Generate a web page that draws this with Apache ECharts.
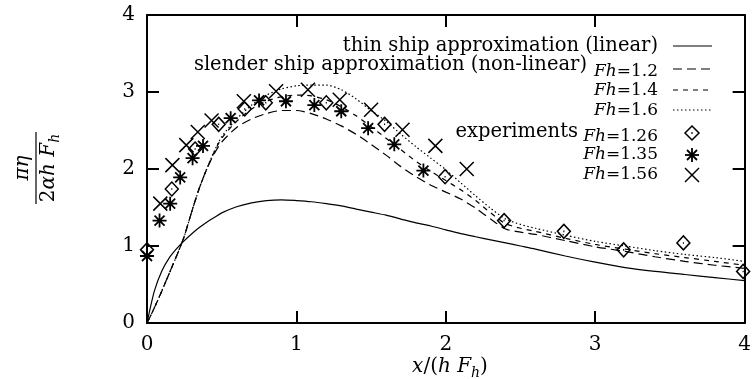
<!DOCTYPE html>
<html><head><meta charset="utf-8">
<script src="https://cdn.jsdelivr.net/npm/echarts@6.0.0/dist/echarts.min.js"></script>
<style>html,body{margin:0;padding:0;background:#fff}#c{width:754px;height:379px}</style>
</head><body><div id="c"></div>
<script>
// ---- data ----
const xGrid = [0,0.05,0.1,0.15,0.2,0.25,0.3,0.35,0.4,0.45,0.5,0.6,0.7,0.8,0.9,1.0,1.1,1.2,1.3,1.4,1.5,1.6,1.7,1.8,1.9,2.0,2.1,2.2,2.3,2.4,2.5,2.6,2.8,3.0,3.2,3.4,3.6,3.8,4.0];
const thinShip = [0,0.42,0.68,0.85,0.97,1.07,1.16,1.24,1.31,1.37,1.43,1.51,1.56,1.59,1.60,1.59,1.575,1.55,1.52,1.48,1.44,1.40,1.35,1.30,1.26,1.21,1.16,1.12,1.08,1.04,1.00,0.96,0.87,0.79,0.72,0.67,0.63,0.59,0.55];
const slenderFh12 = [0,0.2,0.42,0.65,0.88,1.13,1.45,1.75,2.0,2.2,2.35,2.54,2.65,2.72,2.76,2.76,2.72,2.65,2.56,2.45,2.32,2.18,2.03,1.90,1.79,1.70,1.61,1.49,1.35,1.22,1.18,1.15,1.07,0.99,0.93,0.86,0.80,0.75,0.71];
const slenderFh14 = [0,0.2,0.42,0.65,0.88,1.13,1.45,1.75,2.0,2.22,2.40,2.62,2.78,2.88,2.94,2.96,2.95,2.90,2.81,2.69,2.55,2.40,2.25,2.10,1.97,1.85,1.73,1.59,1.43,1.29,1.23,1.19,1.10,1.02,0.96,0.90,0.85,0.80,0.75];
const slenderFh16 = [0,0.2,0.42,0.65,0.88,1.13,1.45,1.75,2.0,2.23,2.42,2.65,2.83,2.96,3.04,3.08,3.09,3.09,3.03,2.91,2.76,2.62,2.45,2.29,2.14,1.99,1.82,1.65,1.49,1.35,1.28,1.23,1.14,1.06,1.00,0.94,0.89,0.85,0.80];
const expFh126 = [[0,0.95],[0.166,1.74],[0.322,2.26],[0.48,2.58],[0.654,2.78],[0.795,2.86],[1.2,2.86],[1.59,2.58],[1.995,1.90],[2.39,1.33],[2.79,1.19],[3.19,0.95],[3.59,1.04],[3.99,0.67]];
const expFh135 = [[0,0.87],[0.084,1.33],[0.155,1.55],[0.222,1.89],[0.305,2.14],[0.375,2.30],[0.56,2.66],[0.75,2.89],[0.93,2.88],[1.12,2.83],[1.30,2.75],[1.48,2.53],[1.655,2.32],[1.85,1.98]];
const expFh156 = [[0.089,1.55],[0.17,2.05],[0.263,2.31],[0.34,2.48],[0.432,2.63],[0.648,2.88],[0.864,3.01],[1.077,3.03],[1.29,2.90],[1.50,2.77],[1.71,2.51],[1.93,2.30],[2.14,2.0]];
const xTicks = [0,1,2,3,4];
const yTicks = [0,1,2,3,4];

// ---- helpers ----
const SERIF = '"DejaVu Serif", serif';
const cv = document.createElement('canvas').getContext('2d');
function measure(font, s){ cv.font = font; return cv.measureText(s).width; }
function mathText(parts, size, ax, y, align){
  let x = 0; const items = [];
  parts.forEach(p => {
    const fs = p.sub ? Math.round(size*0.72) : size;
    const style = p.it ? 'italic' : 'normal';
    const w = measure(style + ' ' + fs + 'px ' + SERIF, p.t);
    items.push({t:p.t, fs, style, x, dy: p.sub ? size*0.32 : 0});
    x += w;
  });
  const start = align === 'right' ? ax - x : align === 'center' ? ax - x/2 : ax;
  return items.map(it => ({type:'text', x:start + it.x, y:y + it.dy, z:10,
    style:{text:it.t, fontSize:it.fs, fontStyle:it.style, fontFamily:SERIF, fill:'#000', align:'left', verticalAlign:'middle'}}));
}
function plain(t, size, ax, y, align){
  return {type:'text', x:ax, y:y, z:10, style:{text:t, fontSize:size, fontFamily:SERIF, fill:'#000', align:align, verticalAlign:'middle'}};
}
function seg(x1,y1,x2,y2,w,dash){
  return {type:'line', z:10, shape:{x1,y1,x2,y2}, style:{stroke:'#000', lineWidth:w, lineDash:dash||null}};
}

const chart = echarts.init(document.getElementById('c'), null, {renderer:'canvas'});

// legend graphics
const LX = 658, S1 = 673, S2 = 712, MX = 692;
const FH = 17, TXT = 19.5;
const fh = v => [{t:'F',it:true},{t:'h',it:true},{t:'='+v}];
let g = [];
g.push(plain('thin ship approximation (linear)', TXT, LX, 46, 'right'));
g.push(seg(S1,46,S2,46,1.2));
g.push(plain('slender ship approximation (non-linear)', TXT, 587, 65, 'right'));
g = g.concat(mathText(fh('1.2'), FH, LX, 72, 'right'));
g.push(seg(S1,69,S2,69,1.2,[9,5]));
g = g.concat(mathText(fh('1.4'), FH, LX, 91, 'right'));
g.push(seg(S1,90,S2,90,1.2,[5,5]));
g = g.concat(mathText(fh('1.6'), FH, LX, 111, 'right'));
g.push(seg(S1,110,S2,110,1.2,[1.5,2.5]));
g.push(plain('experiments', TXT, 578, 132, 'right'));
g = g.concat(mathText(fh('1.26'), FH, LX, 137, 'right'));
g.push({type:'polygon', z:10, shape:{points:[[MX,126],[MX+7,133],[MX,140],[MX-7,133]]}, style:{fill:'none', stroke:'#000', lineWidth:1.5}});
g.push(seg(MX-0.8,133,MX+0.8,133,1.5));
g = g.concat(mathText(fh('1.35'), FH, LX, 155, 'right'));
g.push(seg(MX,148,MX,162,1.8)); g.push(seg(MX-7,155,MX+7,155,1.8));
g.push(seg(MX-5,150,MX+5,160,1.8)); g.push(seg(MX-5,160,MX+5,150,1.8));
g = g.concat(mathText(fh('1.56'), FH, LX, 175, 'right'));
g.push(seg(MX-7,168,MX+7,182,1.5)); g.push(seg(MX-7,182,MX+7,168,1.5));

// x axis title
g = g.concat(mathText([{t:'x',it:true},{t:'/('},{t:'h',it:true},{t:' '},{t:'F',it:true},{t:'h',it:true,sub:true},{t:')'}], 20, 450, 367, 'center'));

// y axis title (rotated fraction)
const num = mathText([{t:'πη',it:true}], 20, 0, -13, 'center');
const den = mathText([{t:'2'},{t:'αh',it:true},{t:' '},{t:'F',it:true},{t:'h',it:true,sub:true}], 20, 0, 13, 'center');
g.push({type:'group', x:36, y:168, rotation:Math.PI/2, children: num.concat(den).concat([seg(-36,0,36,0,1.2)])});

const axisCommon = {
  type:'value', min:0, max:4, interval:1,
  axisLine:{show:true, onZero:false, lineStyle:{color:'#000', width:2}},
  axisTick:{show:true, inside:true, length:12, lineStyle:{color:'#000', width:2}},
  splitLine:{show:false}
};
const labelStyle = {color:'#000', fontFamily:SERIF, fontSize:20};

const lineSeries = (data, dash) => ({
  type:'line', data: xGrid.map((x,i)=>[x, data[i]]), showSymbol:false, smooth:0.25,
  lineStyle:{color:'#000', width:1.2, type:dash}, z:3, animation:false
});
const scatterSeries = (data, path, size, bw) => ({
  type:'scatter', data, symbol:path, symbolSize:size, animation:false, z:4,
  itemStyle:{color:'rgba(0,0,0,0)', borderColor:'#000', borderWidth:bw, opacity:1}
});

chart.setOption({
  animation:false,
  backgroundColor:'#fff',
  grid:{left:147, right:6, top:15, bottom:56, containLabel:false},
  xAxis:[
    Object.assign({}, axisCommon, {position:'bottom', axisLabel:Object.assign({margin:12, formatter:v=>xTicks.includes(v)?String(v):''}, labelStyle)}),
    Object.assign({}, axisCommon, {position:'top', axisLabel:{show:false}})
  ],
  yAxis:[
    Object.assign({}, axisCommon, {position:'left', axisLabel:Object.assign({margin:12, formatter:v=>yTicks.includes(v)?String(v):''}, labelStyle)}),
    Object.assign({}, axisCommon, {position:'right', axisLabel:{show:false}})
  ],
  series:[
    lineSeries(thinShip, 'solid'),
    lineSeries(slenderFh12, [9,5]),
    lineSeries(slenderFh14, [5,5]),
    lineSeries(slenderFh16, [1.5,2.5]),
    scatterSeries(expFh126, 'path://M0,-7L7,0L0,7L-7,0Z M-0.6,0L0.6,0', [13,14], 1.5),
    scatterSeries(expFh135, 'path://M0,-7L0,7M-7,0L7,0M-5,-5L5,5M-5,5L5,-5', 14, 1.8),
    scatterSeries(expFh156, 'path://M-7,-7L7,7M-7,7L7,-7', 14, 1.5)
  ],
  graphic: g
});
</script>
</body></html>
